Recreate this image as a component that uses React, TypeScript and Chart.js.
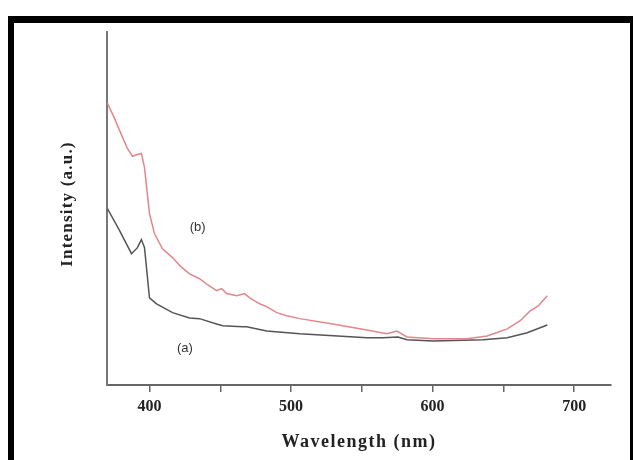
import React, { useEffect, useRef } from "react";
import { Chart, registerables } from "chart.js";

Chart.register(...registerables);

// Curve (b) – red/pink
const wavelengthB = [370.3, 375.0, 378.8, 384.4, 388.0, 391.5, 394.3, 396.5, 398.6, 400, 403.5, 409.2, 416.3, 422.0, 428.3, 435.4, 441.0, 447.4, 451.0, 454.5, 461.6, 467.2, 470.8, 477.8, 482.8, 489.9, 497.0, 506.2, 529.5, 553.6, 567.7, 574.8, 581.9, 600.3, 624.3, 638.5, 652.7, 661.9, 668.9, 674.6, 681.0];
const intensityB = [79.8, 75.8, 72.2, 67.0, 64.8, 65.3, 65.6, 61.6, 53.7, 48.6, 42.9, 38.6, 36.1, 33.6, 31.5, 30.1, 28.4, 26.7, 27.3, 25.9, 25.3, 25.9, 24.7, 23.0, 22.2, 20.5, 19.6, 18.8, 17.3, 15.6, 14.5, 15.3, 13.6, 13.1, 13.1, 13.9, 15.9, 18.2, 21.0, 22.4, 25.3];

// Curve (a) – grey
const wavelengthA = [370.3, 378.8, 387.3, 391.5, 394.3, 396.5, 400, 405.0, 416.3, 428.3, 435.4, 447.4, 451.7, 465.8, 468.6, 482.8, 506.2, 553.6, 564.9, 575.5, 581.9, 600.3, 635.7, 652.7, 666.8, 681.0];
const intensityA = [50.0, 43.8, 37.2, 38.9, 41.2, 38.9, 24.7, 23.0, 20.5, 19.0, 18.8, 17.3, 16.8, 16.5, 16.5, 15.3, 14.5, 13.4, 13.4, 13.6, 12.8, 12.5, 12.8, 13.4, 14.8, 17.0];

const xTickLabels = [400, 500, 600, 700];
const xTitle = "Wavelength (nm)";
const yTitle = "Intensity (a.u.)";
const curveLabels = ["(a)", "(b)"];

const decorPlugin = {
  id: "decor",
  beforeDraw(chart: any) {
    const ctx = chart.ctx;
    ctx.save();
    ctx.fillStyle = "#ffffff";
    ctx.fillRect(0, 0, chart.width, chart.height);
    ctx.fillStyle = "#000000";
    ctx.fillRect(8, 16, 6, chart.height - 16);
    ctx.fillRect(8, 16, chart.width - 8, 7);
    ctx.fillRect(630, 16, 3, chart.height - 16);
    ctx.restore();
  },
  afterDraw(chart: any) {
    const ctx = chart.ctx;
    const xs = chart.scales.x;
    const ys = chart.scales.y;
    ctx.save();
    ctx.fillStyle = "#222222";
    ctx.textAlign = "center";
    ctx.textBaseline = "middle";
    (ctx as any).letterSpacing = "1.5px";
    ctx.font = "bold 18px 'Liberation Serif'";
    ctx.fillText(xTitle, 359, 442);
    ctx.translate(68, 204);
    ctx.rotate(-Math.PI / 2);
    (ctx as any).letterSpacing = "1.2px";
    ctx.font = "bold 17px 'Liberation Serif'";
    ctx.fillText(yTitle, 0, 0);
    ctx.restore();

    ctx.save();
    ctx.fillStyle = "#333333";
    ctx.textAlign = "center";
    ctx.textBaseline = "middle";
    ctx.font = "13px 'Liberation Sans'";
    ctx.fillText(curveLabels[0], xs.getPixelForValue(425), ys.getPixelForValue(10.5));
    ctx.fillText(curveLabels[1], xs.getPixelForValue(434), ys.getPixelForValue(44.5));
    ctx.restore();
  },
};

export default function App() {
  const ref = useRef<HTMLCanvasElement | null>(null);

  useEffect(() => {
    if (!ref.current) return;
    const chart = new Chart(ref.current, {
      type: "line",
      data: {
        datasets: [
          {
            label: "(b)",
            data: wavelengthB.map((x, i) => ({ x, y: intensityB[i] })),
            borderColor: "#e3868b",
            borderWidth: 1.5,
            pointRadius: 0,
            tension: 0,
            fill: false,
          },
          {
            label: "(a)",
            data: wavelengthA.map((x, i) => ({ x, y: intensityA[i] })),
            borderColor: "#555555",
            borderWidth: 1.5,
            pointRadius: 0,
            tension: 0,
            fill: false,
          },
        ],
      },
      plugins: [decorPlugin],
      options: {
        responsive: false,
        animation: false,
        layout: { padding: { left: 0, right: 22, top: 32, bottom: 0 } },
        plugins: { legend: { display: false }, tooltip: { enabled: false } },
        scales: {
          x: {
            type: "linear",
            min: 370,
            max: 726,
            border: { display: true, color: "#666666", width: 2 },
            grid: { display: true, drawOnChartArea: false, drawTicks: true, tickLength: 7, color: "#666666", lineWidth: 1.5 },
            ticks: {
              stepSize: 50,
              includeBounds: false,
              autoSkip: false,
              maxRotation: 0,
              padding: 5,
              color: "#222222",
              font: { family: "'Liberation Serif'", size: 16, weight: "bold" },
              callback: (v: any) => (xTickLabels.includes(Number(v)) ? String(v) : ""),
            },
            afterFit: (s: any) => {
              s.height = 75;
            },
          },
          y: {
            type: "linear",
            min: 0,
            max: 100,
            border: { display: true, color: "#777777", width: 2 },
            grid: { display: false },
            ticks: { display: false },
            afterFit: (s: any) => {
              s.width = 107;
            },
          },
        },
      },
    });
    return () => chart.destroy();
  }, []);

  return (
    <div style={{ position: "fixed", left: 0, top: 0, width: 633, height: 460 }}>
      <canvas ref={ref} width={633} height={460} style={{ display: "block" }} />
    </div>
  );
}
